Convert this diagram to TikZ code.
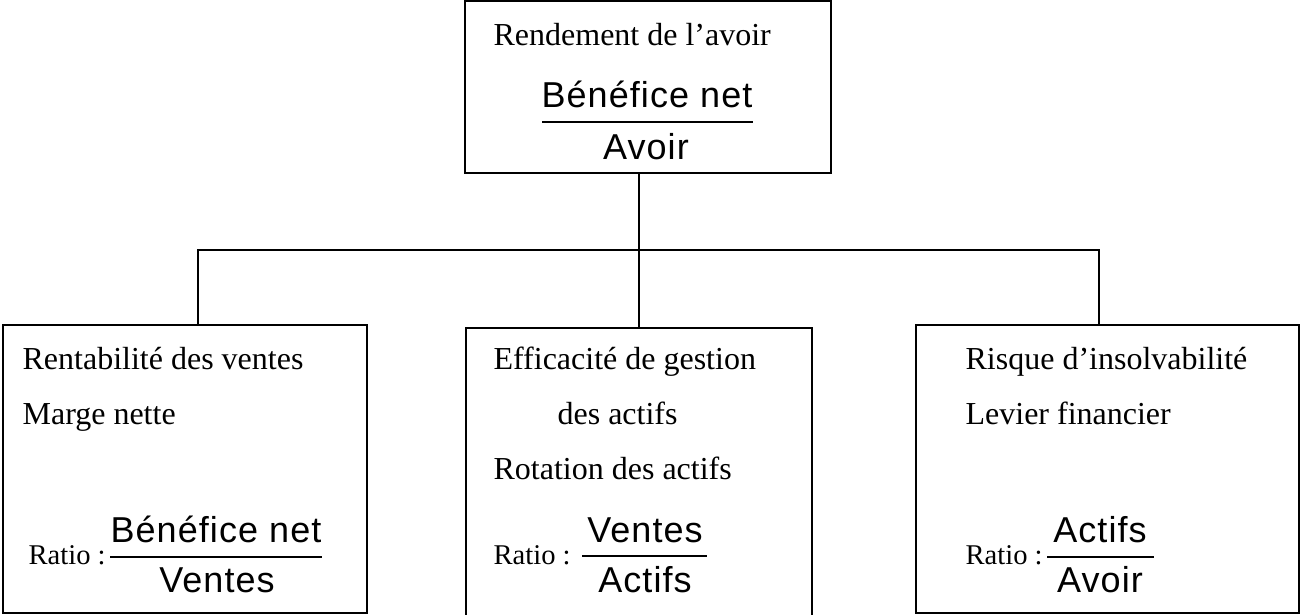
\documentclass[tikz,border=0pt]{standalone}
\usepackage{fontspec}
\setmainfont{Liberation Serif}
\newfontfamily\ratiofont[LetterSpace=3]{Liberation Sans}
\usepackage{tikz}

\tikzset{
	boxnode/.style = {draw, rectangle, inner sep = 0pt, line width = 0.6pt},
	txt/.style = {anchor = base west, inner sep = 0pt, font = \fontsize{16}{19}\selectfont},
	ratiotxt/.style = {anchor = base west, inner sep = 0pt, font = \fontsize{14.3}{17}\selectfont},
	num/.style = {anchor = base, inner sep = 0pt, font = \ratiofont\fontsize{18}{21}\selectfont}
}

\begin{document}
\begin{tikzpicture}[x = 0.5pt, y = 0.5pt, line width = 0.6pt]
		\useasboundingbox (0,0) rectangle (1300,615);
		\clip (0,0) rectangle (1300,615);
		\node (top) at (648,528) [boxnode, minimum width = 183pt, minimum height = 86pt] {};
		\node (left) at (185,146) [boxnode, minimum width = 182pt, minimum height = 144pt] {};
		\node (mid) at (639,141) [boxnode, minimum width = 173pt, minimum height = 146pt] {};
		\node (right) at (1107.5,146) [boxnode, minimum width = 191.5pt, minimum height = 144pt] {};
		\coordinate (lj) at (198,365);
		\coordinate (rj) at (1099,365);
		\draw (top.south -| mid.north) -- (mid.north);
		\draw (lj |- left.north) -- (lj) -- (rj) -- (rj |- right.north);

		\node (t1) at (493,569) [txt] {Rendement de l’avoir};
		\node (t2) at (647,507) [num] {Bénéfice net};
		\node (t3) at (646,455) [num] {Avoir};
		\draw (542,493) -- (753,493);

		\node (l1) at (22,245) [txt] {Rentabilité des ventes};
		\node (l2) at (22,190) [txt] {Marge nette};
		\node (l3) at (28,50) [ratiotxt] {Ratio :};
		\node (l4) at (216,72) [num] {Bénéfice net};
		\node (l5) at (217,22) [num] {Ventes};
		\draw (110,58) -- (322,58);

		\node (m1) at (493,245) [txt] {Efficacité de gestion};
		\node (m2) at (557,190) [txt] {des actifs};
		\node (m3) at (493,135) [txt] {Rotation des actifs};
		\node (m4) at (493,50) [ratiotxt] {Ratio :};
		\node (m5) at (645,72) [num] {Ventes};
		\node (m6) at (645,22) [num] {Actifs};
		\draw (582,59) -- (707,59);

		\node (r1) at (965,245) [txt] {Risque d’insolvabilité};
		\node (r2) at (965,190) [txt] {Levier financier};
		\node (r3) at (965,50) [ratiotxt] {Ratio :};
		\node (r4) at (1100,72) [num] {Actifs};
		\node (r5) at (1100,22) [num] {Avoir};
		\draw (1047,58) -- (1154,58);
		\end{tikzpicture}
\end{document}
